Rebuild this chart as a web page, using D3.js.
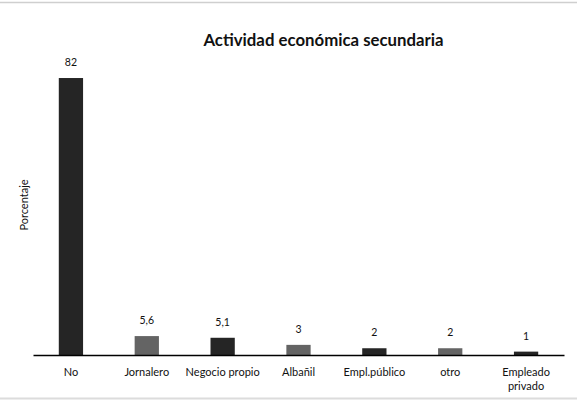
<!DOCTYPE html>
<html>
<head>
<meta charset="utf-8">
<script src="https://cdn.jsdelivr.net/npm/d3@7"></script>
<style>
  body { margin: 0; background: #fff; }
  text { font-family: Lato, "Open Sans", sans-serif; fill: #111; }
</style>
</head>
<body>
<svg id="chart"></svg>
<script>
// data
const categories = ["No", "Jornalero", "Negocio propio", "Albañil", "Empl.público", "otro", "Empleado privado"];
const values = [82, 5.6, 5.1, 3, 2, 2, 1];
const valueLabels = ["82", "5,6", "5,1", "3", "2", "2", "1"];

const width = 577,
      height = 402;

const svg = d3.select("#chart")
    .attr("width", width)
    .attr("height", height);

// light frame lines top and bottom
svg.append("line")
    .attr("x1", 0).attr("x2", width)
    .attr("y1", 2.5).attr("y2", 2.5)
    .style("stroke", "#cfcfcf").style("stroke-width", 1.5);
svg.append("line")
    .attr("x1", 0).attr("x2", width)
    .attr("y1", 398.5).attr("y2", 398.5)
    .style("stroke", "#dcdcdc").style("stroke-width", 2);

const x = d3.scaleBand()
    .domain(categories)
    .range([33, 564])
    .paddingInner(0.68)
    .paddingOuter(0.34);

const y = d3.scaleLinear()
    .domain([0, 90])
    .range([355, 51]);

const color = (d, i) => i % 2 === 0 ? "#252525" : "#646464";

// bars
svg.append("g")
    .selectAll("rect")
    .data(values)
    .enter()
    .append("rect")
    .attr("x", (d, i) => x(categories[i]))
    .attr("width", x.bandwidth())
    .attr("y", d => y(d))
    .attr("height", d => y(0) - y(d))
    .style("fill", color);

// value labels
svg.append("g")
    .selectAll("text")
    .data(values)
    .enter()
    .append("text")
    .attr("x", (d, i) => x(categories[i]) + x.bandwidth() / 2)
    .attr("y", d => y(d) - 12)
    .attr("text-anchor", "middle")
    .style("font-size", "10.5px")
    .text((d, i) => valueLabels[i]);

// x axis (just the baseline, no ticks)
const xAxis = svg.append("g")
    .attr("transform", "translate(0," + y(0) + ")")
    .call(d3.axisBottom(x).tickSize(0).tickSizeOuter(0).tickPadding(0));
xAxis.select(".domain").style("stroke", "#000").style("stroke-width", 1.5);
xAxis.selectAll(".tick text").remove();

// category labels, wrapped where Excel wrapped them
const catLabel = svg.append("g")
    .selectAll("text")
    .data(categories)
    .enter()
    .append("text")
    .attr("text-anchor", "middle")
    .attr("x", d => x(d) + x.bandwidth() / 2)
    .attr("y", 375.5)
    .style("font-size", "11px");

catLabel.each(function(d) {
    const lines = d === "Empleado privado" ? ["Empleado", "privado"] : [d];
    const t = d3.select(this);
    lines.forEach((l, k) => {
        t.append("tspan")
            .attr("x", x(d) + x.bandwidth() / 2)
            .attr("dy", k === 0 ? 0 : 14)
            .text(l);
    });
});

// title
svg.append("text")
    .attr("x", 323.5)
    .attr("y", 45.5)
    .attr("text-anchor", "middle")
    .style("font-size", "16.8px")
    .style("font-weight", "bold")
    .text("Actividad económica secundaria");

// y axis title
svg.append("text")
    .attr("transform", "translate(28,205) rotate(-90)")
    .attr("text-anchor", "middle")
    .style("font-size", "11px")
    .text("Porcentaje");
</script>
</body>
</html>
